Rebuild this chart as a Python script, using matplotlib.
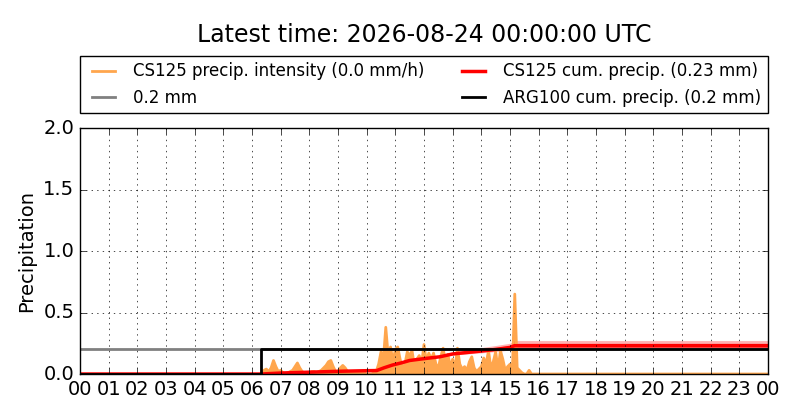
import matplotlib
matplotlib.use("Agg")
import matplotlib.pyplot as plt
import numpy as np

plt.style.use("classic")

title = "Latest time: 2026-08-24 00:00:00 UTC"
hour_labels = ["%02d" % (h % 24) for h in range(25)]

# CS125 intensity, 5-minute values starting 06:20
intensity_start = 6 + 20 / 60
intensity = [
    0.01, 0.03, 0.04, 0.02, 0.05, 0.11, 0.06, 0.02,                          # 06:20-06:55
    0.03, 0.01, 0.00, 0.01, 0.02, 0.03, 0.06, 0.09, 0.05, 0.02, 0.01, 0.01,  # 07
    0.01, 0.02, 0.02, 0.01, 0.02, 0.03, 0.05, 0.07, 0.10, 0.11, 0.06, 0.02,  # 08
    0.02, 0.05, 0.07, 0.05, 0.02, 0.01, 0.01, 0.01, 0.01, 0.01, 0.01, 0.01,  # 09
    0.00, 0.00, 0.00, 0.01, 0.02, 0.08, 0.18, 0.12, 0.38, 0.15, 0.22, 0.10,  # 10
    0.20, 0.22, 0.12, 0.05, 0.08, 0.18, 0.15, 0.19, 0.06, 0.12, 0.15, 0.08,  # 11
    0.24, 0.10, 0.17, 0.12, 0.17, 0.08, 0.05, 0.14, 0.21, 0.10, 0.16, 0.06,  # 12
    0.12, 0.05, 0.21, 0.08, 0.04, 0.06, 0.03, 0.10, 0.14, 0.05, 0.02, 0.04,  # 13
    0.06, 0.13, 0.08, 0.19, 0.05, 0.10, 0.18, 0.04, 0.19, 0.12, 0.03, 0.06,  # 14
    0.08, 0.03, 0.65, 0.05, 0.03, 0.01, 0.00, 0.00, 0.03, 0.00, 0.00, 0.00,  # 15
    0.00, 0.00,
]

# CS125 cumulative precipitation with its spread
cum_hours = [0.0, 6.33, 7.0, 8.0, 9.0, 10.0, 10.35, 10.6, 10.9, 11.2, 11.5, 12.0,
             12.55, 13.0, 13.5, 14.0, 14.5, 15.0, 15.15, 24.0]
cum_precip = [0.0, 0.0, 0.008, 0.015, 0.022, 0.027, 0.028, 0.05, 0.073, 0.09, 0.11, 0.125,
              0.14, 0.163, 0.175, 0.187, 0.2, 0.216, 0.23, 0.23]
cum_low = [0.0, 0.0, 0.008, 0.015, 0.022, 0.027, 0.028, 0.05, 0.073, 0.09, 0.11, 0.124,
           0.136, 0.155, 0.163, 0.172, 0.182, 0.195, 0.2, 0.2]
cum_high = [0.0, 0.0, 0.008, 0.015, 0.022, 0.027, 0.028, 0.05, 0.073, 0.09, 0.11, 0.128,
            0.15, 0.18, 0.198, 0.215, 0.232, 0.25, 0.272, 0.272]

# ARG100 cumulative precipitation
arg_hours = [0.0, 6.33, 6.33, 24.0]
arg_precip = [0.0, 0.0, 0.2, 0.2]

threshold = 0.2

int_hours = intensity_start + np.arange(len(intensity)) * 5 / 60
int_hours = np.append(int_hours, 24.0)
int_vals = np.append(intensity, 0.0)

fig = plt.figure(figsize=(8, 4.2), dpi=100, facecolor="white")
ax = fig.add_axes([0.1, 0.1095, 0.86, 0.5855])

orange = "#ffa64d"
ax.fill_between(int_hours, 0, int_vals, color=orange, lw=0)
ax.plot(int_hours, int_vals, color=orange, lw=2, label="CS125 precip. intensity (0.0 mm/h)")
ax.axhline(threshold, color="gray", lw=2, label="0.2 mm")
ax.fill_between(cum_hours, cum_low, cum_high, color="red", alpha=0.3, lw=0)
mid_low = [(a + b) / 2 for a, b in zip(cum_low, cum_precip)]
mid_high = [(a + b) / 2 for a, b in zip(cum_high, cum_precip)]
ax.fill_between(cum_hours, mid_low, mid_high, color="red", alpha=0.3, lw=0)
ax.plot(cum_hours, cum_precip, color="red", lw=2.5, label="CS125 cum. precip. (0.23 mm)")
ax.plot(arg_hours, arg_precip, color="black", lw=2, label="ARG100 cum. precip. (0.2 mm)")

ax.set_xlim(0, 24)
ax.set_ylim(0, 2.0)
ax.set_xticks(range(25))
ax.set_xticklabels(hour_labels)
ax.set_yticks([0.0, 0.5, 1.0, 1.5, 2.0])
ax.tick_params(labelsize=14)
ax.set_ylabel("Precipitation", fontsize=14)
ax.grid(True)

ax.legend(loc="lower left", bbox_to_anchor=(0, 1.06, 1, 0.2), mode="expand", ncol=2,
          fontsize=12, borderaxespad=0, handlelength=2)
fig.text(0.53, 0.917, title, fontsize=17, ha="center", va="center")

fig.savefig("out.png", dpi=100, facecolor="white")
